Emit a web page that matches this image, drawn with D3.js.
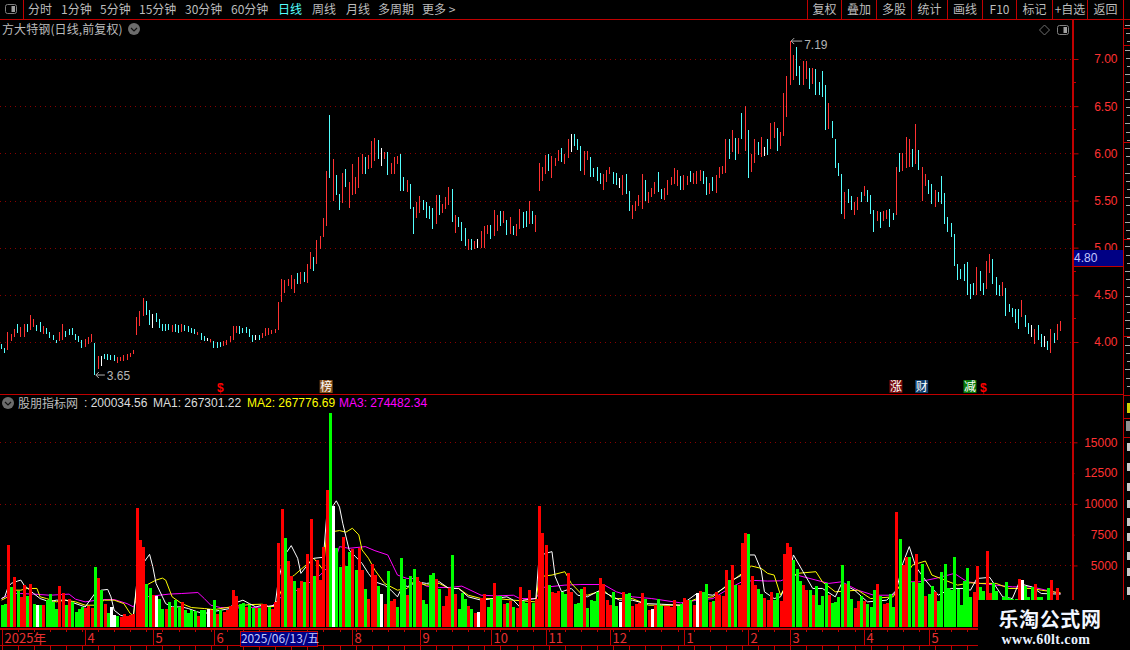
<!DOCTYPE html>
<html lang="zh">
<head>
<meta charset="UTF-8">
<title>方大特钢 日线</title>
<script src="https://cdn.jsdelivr.net/npm/d3@7"></script>
<style>
html,body{margin:0;padding:0;background:#000;overflow:hidden}
svg{display:block}
text{font-family:"Noto Sans CJK SC","Liberation Sans",sans-serif}
.num{font-family:"Liberation Sans",sans-serif}
</style>
</head>
<body>
<script>
// K线 每根的最高/最低
const priceHigh = [
3.98,3.94,4.11,4.08,4.14,4.19,4.16,4.19,4.19,4.29,
4.24,4.18,4.21,4.17,4.15,4.11,4.07,4.02,4.11,4.19,
4.12,4.14,4.15,4.08,4.06,4.02,4.03,4.05,4.08,3.99,
3.85,3.85,3.87,3.87,3.86,3.86,3.84,3.84,3.86,3.87,
3.88,3.91,4.27,4.33,4.47,4.43,4.34,4.30,4.31,4.24,
4.19,4.19,4.19,4.18,4.19,4.18,4.19,4.18,4.17,4.15,
4.14,4.11,4.10,4.06,4.04,4.03,4.01,4.00,4.00,4.01,
4.02,4.06,4.17,4.17,4.17,4.15,4.16,4.14,4.07,4.07,
4.07,4.10,4.15,4.15,4.13,4.14,4.42,4.67,4.66,4.67,
4.71,4.67,4.73,4.74,4.74,4.83,4.95,4.90,5.08,5.12,
5.31,5.81,6.41,5.94,5.77,5.57,5.79,5.83,5.70,5.89,
5.75,5.96,5.99,5.96,5.98,6.13,6.16,6.14,6.06,6.01,
6.01,5.90,5.96,5.97,5.99,5.75,5.72,5.67,5.43,5.48,
5.55,5.51,5.48,5.44,5.42,5.56,5.56,5.46,5.54,5.64,
5.62,5.35,5.32,5.27,5.21,5.09,5.09,5.07,5.09,5.18,
5.23,5.24,5.24,5.40,5.35,5.39,5.39,5.29,5.32,5.23,
5.25,5.41,5.38,5.39,5.50,5.39,5.35,5.90,5.85,5.98,
5.99,5.97,5.95,6.04,6.06,5.99,6.15,6.21,6.20,6.15,
6.08,6.02,6.02,5.96,5.84,5.85,5.79,5.78,5.82,5.85,
5.80,5.79,5.74,5.77,5.78,5.60,5.45,5.49,5.56,5.78,
5.72,5.59,5.63,5.70,5.80,5.62,5.63,5.72,5.75,5.84,
5.82,5.76,5.77,5.76,5.81,5.79,5.81,5.82,5.81,5.75,
5.69,5.75,5.77,5.85,5.87,6.15,6.15,6.25,6.16,6.16,
6.43,6.50,6.25,5.99,6.15,6.12,6.17,6.07,6.15,6.32,
6.33,6.27,6.23,6.64,6.82,7.19,7.04,7.13,6.93,6.98,
6.98,6.90,6.90,6.89,6.76,6.87,6.72,6.53,6.34,6.15,
5.90,5.78,5.59,5.62,5.55,5.48,5.54,5.59,5.65,5.61,
5.56,5.40,5.39,5.38,5.39,5.40,5.41,5.37,5.85,6.00,
6.00,6.17,6.15,6.05,6.31,6.04,5.86,5.78,5.72,5.67,
5.61,5.59,5.76,5.58,5.33,5.26,5.15,4.83,4.77,4.83,
4.85,4.61,4.63,4.79,4.75,4.63,4.86,4.93,4.88,4.69,
4.60,4.64,4.57,4.40,4.36,4.35,4.35,4.45,4.29,4.20,
4.18,4.14,4.18,4.08,4.06,4.01,4.14,4.10,4.19,4.22];

const priceLow = [
3.93,3.88,3.91,4.01,4.05,4.10,4.05,4.05,4.11,4.13,
4.16,4.12,4.11,4.08,4.09,4.04,4.02,3.99,4.01,4.02,
4.05,4.07,4.07,4.02,4.00,3.94,3.95,3.98,4.00,3.65,
3.71,3.75,3.82,3.81,3.81,3.80,3.78,3.80,3.80,3.81,
3.84,3.87,4.07,4.17,4.28,4.29,4.18,4.15,4.21,4.15,
4.12,4.12,4.13,4.11,4.11,4.10,4.11,4.12,4.11,4.10,
4.08,4.07,4.02,4.01,4.01,4.00,3.94,3.94,3.95,3.96,
3.97,4.00,4.02,4.10,4.08,4.10,4.10,4.05,4.00,4.02,
4.02,4.04,4.06,4.07,4.08,4.10,4.13,4.42,4.52,4.59,
4.56,4.52,4.62,4.62,4.64,4.63,4.77,4.75,4.83,4.99,
5.11,5.23,5.74,5.50,5.56,5.40,5.47,5.64,5.42,5.56,
5.57,5.63,5.78,5.78,5.83,5.84,5.92,5.94,5.87,5.94,
5.77,5.78,5.78,5.89,5.60,5.60,5.59,5.41,5.15,5.31,
5.37,5.40,5.31,5.30,5.20,5.25,5.35,5.37,5.41,5.45,
5.27,5.16,5.22,5.07,5.02,4.98,4.97,4.99,5.00,5.00,
5.00,5.15,5.09,5.12,5.18,5.23,5.26,5.13,5.15,5.13,
5.12,5.20,5.21,5.22,5.25,5.25,5.17,5.60,5.71,5.78,
5.81,5.74,5.87,5.92,5.91,5.89,5.95,6.01,6.08,6.04,
5.81,5.77,5.93,5.75,5.75,5.71,5.67,5.61,5.70,5.78,
5.68,5.66,5.63,5.56,5.57,5.39,5.30,5.39,5.44,5.41,
5.49,5.47,5.54,5.57,5.59,5.52,5.51,5.56,5.66,5.68,
5.65,5.61,5.61,5.66,5.70,5.67,5.67,5.71,5.68,5.56,
5.57,5.60,5.58,5.74,5.78,5.79,5.94,6.01,5.93,5.99,
6.15,6.03,5.74,5.80,5.90,5.98,5.96,5.97,5.98,6.05,
6.16,6.02,6.08,6.18,6.38,6.72,6.78,6.82,6.72,6.72,
6.79,6.68,6.74,6.62,6.62,6.60,6.25,6.26,6.16,5.84,
5.76,5.36,5.30,5.47,5.40,5.35,5.40,5.48,5.55,5.48,
5.36,5.17,5.28,5.21,5.28,5.30,5.22,5.29,5.35,5.80,
5.81,5.84,5.86,5.85,5.89,5.82,5.49,5.65,5.57,5.46,
5.43,5.48,5.46,5.25,5.17,5.11,4.81,4.66,4.67,4.65,
4.50,4.46,4.50,4.50,4.54,4.50,4.56,4.73,4.61,4.50,
4.49,4.49,4.28,4.32,4.26,4.20,4.14,4.26,4.16,4.09,
4.05,3.98,4.02,3.95,3.95,3.92,3.88,3.99,4.02,4.12];

// r 涨 c 跌 w 平
const priceKind = [
"ccrrrcrrcr","rccrccccrr","ccccccrrrc","rwccccrrrr","rrrrrccwcc",
"cccrccrccc","crccwrcccr","rrrrcccccw","crrrrrrrrr","rrcrcrrcrr",
"rrcrccrcrr","rrrcrrrcwr","crrrccrccr","rccccrcrrr","crcccrcrwr",
"rrcrrcrcrc","rrccrcrrrr","crrrcrrwcc","crrccccrrr","ccwrccrrrr",
"crrrccrrrr","rcrrcrrrcc","rcrrrrcrcr","crcrrcrwcr","rcrrrrrccr",
"rcrccccrcc","ccrccrrcrc","ccrcrrccrc","rrrcrcrrcc","rccccccccc",
"cccrccrrcc","crcccccrcc","wrccwcrcrr"].join("");

// 成交量
const volume = [
1770,1850,6660,3260,4050,2940,2450,3400,2500,3480,
1850,1770,1770,1770,2180,2670,2040,1440,3320,2750,
1770,2260,2040,1220,1440,1630,1550,1740,1550,4870,
3970,2990,1850,1120,1630,950,870,820,1090,900,
1010,1030,9680,7070,6500,3480,3130,2580,2500,2280,
1440,1440,2070,1630,2180,1600,2010,1360,1140,1360,
1310,870,1360,1390,1500,1360,2180,1030,1410,1220,
1360,1690,2990,2500,1850,1930,1630,1770,1580,1580,
1550,1850,1900,1630,1440,2010,6850,9600,7240,5360,
4130,3730,3130,3730,3670,5930,8790,4130,5440,3810,
6500,11100,17400,9800,6420,4900,7340,4980,6120,6310,
4650,6390,4650,3070,2280,5110,4190,3320,2670,1850,
4540,2120,2280,1630,5600,3890,2580,4130,4710,4050,
3640,2180,1850,4220,4380,3890,3070,1690,2500,3160,
5850,2670,1440,2750,2280,1690,1440,1120,1200,2340,
2670,1630,2260,3560,2500,2480,1880,1930,2090,1600,
1550,3240,2090,1930,2990,1930,2260,9850,7640,6660,
3400,2830,2750,2910,2830,2670,4380,2830,1850,1930,
3070,3240,1520,2180,2090,2830,3970,3480,2180,1770,
2830,1690,2010,2830,2670,2750,1690,1850,1930,2750,
2260,1360,1440,1770,2280,1690,1710,1690,1630,2180,
1710,1850,2390,2180,2180,1770,2750,2910,2830,3480,
2040,2090,2830,2580,2500,4620,3810,5030,3400,3400,
6850,7640,7560,4130,3400,3070,2670,2340,2180,2830,
2180,2750,2090,5930,6830,6500,5440,4710,3730,3400,
2990,2990,2580,3320,1770,2500,3560,2580,1930,2010,
2420,5030,3480,3730,2260,1520,2090,2500,2090,1850,
1600,2990,3480,2500,1850,1930,2670,1600,9360,7150,
5030,5680,5680,3640,5930,3560,5110,2500,2670,3320,
2830,2090,4460,5110,3160,2990,5680,3070,1770,3730,
4790,2420,2830,4950,3240,2910,6170,2750,3560,2910,
2180,2450,3620,2370,2310,2310,3860,3810,3320,2450,
3210,3480,2450,2450,1500,3130,3810,1500,3130,1500];

const volumeKind = [
"ggrgrgrrgr","gwgrggggrr","grggggrrrg","rgrgwwgrrr","rrrrrggrwg",
"grgrggrggg","grggwrgrgr","rrrrggrggr","grrgrrrrgr","rgrrgrrgrr",
"rrgwggrggr","grrgrrrgwr","grrgggrggr","rggggrgrrr","grgggrgrwr",
"rggrggrgrg","rrggrgrrrr","grrrggrrgg","grggggrrrr","ggwrggrrrr",
"grwrggrrrr","ggrrgrwrgg","rgrrrrgrgr","rrgrrggrrr","ggrrrrgggr",
"rgrggggrgg","ggrggrrgrg","ggrgrrggrg","rrggrggrgg","rggggggggg",
"ggrrggrrgg","ggggggrwgg","grggrgrrrr"].join("");

// 均量线 [序号, 值]
const ma1Points = [[0,2310],[1,2450],[2,3210],[3,3540],[5,3730],[6,3810],[7,3400],[10,2720],[12,2310],[15,2040],[17,2180],[20,2180],[26,1630],[29,2720],[31,2990],[33,3050],[34,2450],[35,1360],[37,950],[39,820],[41,950],[42,3540],[44,5170],[46,5900],[47,4900],[48,3540],[50,2450],[51,1900],[53,1630],[56,1630],[58,1500],[61,1220],[63,1090],[65,1220],[68,1360],[71,1500],[72,1900],[75,2180],[77,1900],[79,1630],[81,1770],[83,1690],[85,1770],[86,3810],[88,5850],[90,6610],[92,5580],[93,4350],[95,5030],[97,5580],[100,5660],[101,8980],[103,9850],[104,10250],[105,9740],[106,8430],[108,6260],[110,5710],[112,5170],[114,4350],[116,3670],[119,3400],[121,2990],[123,2450],[125,3540],[126,3260],[129,3670],[132,3540],[136,3670],[139,3130],[142,3130],[145,2450],[149,2180],[153,2310],[157,2450],[159,2180],[161,1630],[162,2180],[166,2310],[167,5710],[169,5980],[171,6120],[172,4080],[174,2860],[177,3130],[179,2580],[182,2450],[186,2990],[189,2580],[192,2180],[196,2180],[200,1900],[205,1850],[211,1770],[216,2720],[221,2580],[225,3260],[227,3810],[230,4220],[232,5850],[234,5850],[236,4620],[237,2860],[240,2310],[242,2450],[244,3540],[246,5850],[249,4490],[252,3130],[255,3130],[259,2450],[261,3540],[265,2990],[269,2040],[275,2180],[278,2990],[280,5170],[282,6530],[284,4900],[287,3810],[291,2580],[295,3130],[299,3130],[301,2990],[303,3940],[307,4030],[311,2450],[314,2310],[316,3540],[320,3260],[323,2720],[329,2670]];

const ma2Points = [[0,2180],[2,2450],[4,2990],[6,2990],[8,3130],[11,3130],[12,2450],[14,2310],[17,2040],[20,2180],[23,2040],[26,1770],[29,1770],[32,2180],[35,2180],[38,1900],[40,1090],[41,950],[42,3260],[45,3400],[48,3810],[50,3970],[51,3810],[53,2450],[56,1900],[59,1580],[63,1500],[66,1410],[70,1580],[73,1690],[77,1820],[81,1850],[83,1630],[85,1690],[88,3670],[91,4220],[94,4900],[97,5580],[100,4620],[101,7620],[103,7750],[105,7830],[107,7700],[109,8020],[111,7480],[112,6260],[114,5580],[116,4620],[119,3540],[123,2990],[126,3130],[128,3670],[132,3400],[136,3540],[139,3130],[142,3130],[145,2580],[149,2310],[154,2310],[159,2180],[166,2040],[167,4080],[171,4220],[175,4490],[177,3540],[180,2720],[182,2580],[187,2990],[190,2310],[196,2310],[201,1770],[211,1770],[216,2310],[221,2450],[226,3540],[230,4350],[233,4950],[236,4760],[238,4350],[240,4220],[242,2580],[244,3540],[247,4350],[253,4490],[255,3670],[259,2860],[266,2990],[270,2310],[277,2450],[280,3810],[283,5030],[287,5360],[289,4220],[293,3810],[297,3400],[301,3590],[304,3540],[309,3540],[313,3130],[320,3130],[323,2990],[329,2770]];

const ma3Points = [[0,2310],[3,2720],[6,2720],[10,2670],[15,2580],[21,2670],[23,2260],[26,2040],[31,2230],[35,2230],[39,1900],[41,1630],[42,2310],[45,2450],[49,2580],[52,2670],[56,2720],[61,2800],[63,2310],[65,1770],[68,1580],[74,1550],[78,1580],[84,1690],[88,2720],[90,2770],[93,3130],[96,3670],[99,4220],[101,4760],[103,4900],[105,6530],[108,6390],[113,6530],[116,6200],[120,5850],[123,4220],[126,3940],[128,3940],[132,3320],[136,3210],[139,3210],[143,3320],[149,2580],[154,2530],[159,2580],[161,2310],[166,2310],[168,3210],[175,3400],[180,3450],[187,3450],[191,2860],[196,2450],[202,2310],[211,1960],[216,2180],[221,2310],[226,3130],[230,3670],[234,3780],[238,3730],[242,3750],[247,4220],[253,3810],[257,3540],[261,3670],[266,2990],[271,2580],[277,2580],[280,3670],[285,3670],[290,3940],[296,4350],[300,3670],[304,3540],[314,3260],[320,3260],[329,2720]];

const priceTicks = [4,4.5,5,5.5,6,6.5,7];
const priceMinor = [4.25,4.75,5.25,5.75,6.25,6.75];
const volTicks = [5000,7500,10000,12500,15000];
const volGrid = [5000,10000,15000];

const monthIdx = [0,26,47,66,109,130,152,169,189,212,232,245,268,288];
const monthLabel = ["2025年","4","5","6","8","9","10","11","12","1","2","3","4","5"];

const toolbarLeft = ["分时","1分钟","5分钟","15分钟","30分钟","60分钟","日线","周线","月线","多周期","更多 >"];
const toolbarLeftX = [28,61,100,139,185,231,278,312,346,378,422];
const toolbarRight = ["复权","叠加","多股","统计","画线","F10","标记","+自选","返回"];
const toolbarRightX = [807,841,876,911,947,982,1016,1052,1087,1123];

const markers = [
  {idx:101, t:"榜", bg:"#86501a"},
  {idx:278, t:"涨", bg:"#7a0c0c"},
  {idx:286, t:"财", bg:"#103f6e"},
  {idx:301, t:"减", bg:"#0a7a0a"}
];
const dollarIdx = [68,305];

// 右侧面板被窗口切掉,只露出碎片
const sideLines = [28,45,142,239,336,395,418,437];
const sideBlocks = [443,463,483,500,518,533,552,568,587];

const W = 1130, H = 650;
const RED = "#c00000", AXISRED = "#ff3232", GREY = "#bcbcbc";
const axisX = 1072.5;

const svg = d3.select("body").append("svg").attr("width",W).attr("height",H);
svg.append("rect").attr("width",W).attr("height",H).attr("fill","#000");

const x = d3.scaleLinear().domain([0,329]).range([1.5,1060.6]);
const yP = d3.scaleLinear().domain([4,7]).range([342,59]);
const yV = d3.scaleLinear().domain([0,15000]).range([627,442.3]);

// 网格
const grid = svg.append("g").attr("stroke","#8a0000").attr("stroke-dasharray","1 4");
priceTicks.forEach(t => grid.append("line").attr("x1",0).attr("x2",axisX).attr("y1",Math.round(yP(t))+.5).attr("y2",Math.round(yP(t))+.5));
volGrid.forEach(t => grid.append("line").attr("x1",0).attr("x2",axisX).attr("y1",Math.round(yV(t))+.5).attr("y2",Math.round(yV(t))+.5));

// K线
const kColor = {r:"#ff3232",c:"#54ffff",w:"#ffffff"};
svg.append("g").attr("shape-rendering","crispEdges").selectAll("rect")
  .data(priceHigh).join("rect")
  .attr("x",(d,i)=>Math.floor(x(i)))
  .attr("width",1)
  .attr("y",d=>yP(d))
  .attr("height",(d,i)=>Math.max(1,yP(priceLow[i])-yP(d)))
  .attr("fill",(d,i)=>kColor[priceKind[i]]);

// 均量线在柱子后面
const line = d3.line().x(d=>x(d[0])).y(d=>yV(d[1]));
[[ma3Points,"#ff00ff"],[ma2Points,"#ffff00"],[ma1Points,"#ffffff"]].forEach(s=>{
  svg.append("path").attr("d",line(s[0])).attr("fill","none").attr("stroke",s[1]).attr("stroke-width",1);
});

// 量柱
const vColor = {r:"#ff0000",g:"#00ff00",w:"#ffffff"};
svg.append("g").attr("shape-rendering","crispEdges").selectAll("rect")
  .data(volume).join("rect")
  .attr("x",(d,i)=>Math.round(x(i)-1))
  .attr("width",3)
  .attr("y",d=>yV(d))
  .attr("height",d=>yV(0)-yV(d))
  .attr("fill",(d,i)=>vColor[volumeKind[i]]);

// 框线
const frame = svg.append("g").attr("stroke",RED).attr("shape-rendering","crispEdges");
function hl(y,x1,x2,w){frame.append("line").attr("x1",x1).attr("x2",x2).attr("y1",y).attr("y2",y).attr("stroke-width",w||1);}
function vl(x0,y1,y2,w){frame.append("line").attr("x1",x0).attr("x2",x0).attr("y1",y1).attr("y2",y2).attr("stroke-width",w||1);}
hl(19.5,0,W,1);
vl(23.5,0,19);
toolbarRightX.forEach(v=>vl(v+.5,0,19));
hl(394.5,0,1123,1);
vl(axisX+.5,19,H,2);
vl(1123.5,19,H,1);
hl(628.5,0,W,2);
hl(645.5,0,W,1);
sideLines.forEach(v=>hl(v+.5,1123,W,1));

// 右侧面板碎片
const side = svg.append("g").attr("shape-rendering","crispEdges");
d3.range(25,390,8.2).forEach((v,i)=>{
  side.append("rect").attr("x",1125+(i%3)).attr("y",v).attr("width",5-(i%3)).attr("height",1).attr("fill","#a8a8a8");
});
side.append("rect").attr("x",1127).attr("y",403).attr("width",3).attr("height",10).attr("fill","#d0d000");
side.append("rect").attr("x",1126).attr("y",421).attr("width",4).attr("height",10).attr("fill","#909090");
sideBlocks.forEach(v=>side.append("rect").attr("x",1127).attr("y",v).attr("width",3).attr("height",8).attr("fill","#c8c8c8"));

// 右轴
const axP = d3.axisRight(yP).tickValues(priceTicks).tickSize(6).tickFormat(d3.format(".2f"));
const gP = svg.append("g").attr("transform",`translate(${axisX},0)`).call(axP);
const axV = d3.axisRight(yV).tickValues(volTicks).tickSize(5).tickFormat(d3.format("d"));
const gV = svg.append("g").attr("transform",`translate(${axisX},0)`).call(axV);
[gP,gV].forEach(g=>{
  g.select(".domain").remove();
  g.selectAll("line").attr("stroke",RED);
  g.selectAll("text").attr("class","num").attr("fill",AXISRED).attr("font-size",12).attr("text-anchor","end").attr("x",45);
});
gV.selectAll("line").attr("x2",d=>d%5000===0?5:2);
const minor = svg.append("g").attr("stroke",RED).attr("shape-rendering","crispEdges");
priceMinor.forEach(t=>minor.append("line").attr("x1",axisX).attr("x2",axisX+3).attr("y1",yP(t)).attr("y2",yP(t)));

// 现价框
svg.append("rect").attr("x",1074).attr("y",250).attr("width",49).attr("height",16).attr("fill","#000084").attr("shape-rendering","crispEdges");
svg.append("line").attr("x1",1074).attr("x2",1123).attr("y1",266.5).attr("y2",266.5).attr("stroke",RED);
svg.append("text").attr("class","num").attr("x",1074).attr("y",262).attr("font-size",12).attr("fill","#c4c8ff").text("4.80");

// 工具栏
const tb = svg.append("g").attr("font-size",12).attr("fill",GREY);
toolbarLeft.forEach((t,i)=>tb.append("text").attr("x",toolbarLeftX[i]).attr("y",14).attr("fill",t==="日线"?"#54ffff":GREY).text(t));
toolbarRight.forEach((t,i)=>tb.append("text").attr("x",(toolbarRightX[i]+toolbarRightX[i+1])/2+.5).attr("y",14).attr("text-anchor","middle").text(t));

function toggleIcon(px,py){
  svg.append("rect").attr("x",px).attr("y",py).attr("width",11).attr("height",9).attr("rx",2).attr("fill","none").attr("stroke","#808080");
  svg.append("rect").attr("x",px+6).attr("y",py+1.5).attr("width",3.5).attr("height",6).attr("fill","#a0a0a0");
}
function downIcon(px,py){
  svg.append("circle").attr("cx",px).attr("cy",py).attr("r",6).attr("fill","#6c6c6c");
  svg.append("path").attr("d",`M${px-3},${py-1}L${px},${py+2}L${px+3},${py-1}`).attr("fill","none").attr("stroke","#111").attr("stroke-width",1.2);
}
toggleIcon(5.5,4.5);
toggleIcon(1057.5,25.5);
svg.append("path").attr("d","M1044.5,25L1049.5,30L1044.5,35L1039.5,30Z").attr("fill","none").attr("stroke","#707070");

svg.append("text").attr("x",2).attr("y",34).attr("font-size",12).attr("letter-spacing",.1).attr("fill",GREY).text("方大特钢(日线,前复权)");
downIcon(134,29);

// 指标标题
downIcon(8,403);
svg.append("text").attr("x",18).attr("y",408).attr("font-size",12).attr("fill",GREY).text("股朋指标网");
const legend = svg.append("g").attr("font-size",12);
legend.append("text").attr("class","num").attr("x",84).attr("y",407).attr("fill","#dcdcdc").text(": 200034.56");
legend.append("text").attr("class","num").attr("x",153).attr("y",407).attr("fill","#dcdcdc").text("MA1: 267301.22");
legend.append("text").attr("class","num").attr("x",247).attr("y",407).attr("fill","#ffff00").text("MA2: 267776.69");
legend.append("text").attr("class","num").attr("x",339).attr("y",407).attr("fill","#ff00ff").text("MA3: 274482.34");

// 高低点标注
function note(idx,p,label,dx,dy){
  const px = x(idx), py = yP(p);
  svg.append("path").attr("d",`M${px+4},${py-3}L${px+1},${py}L${px+4},${py+3}M${px+1},${py}H${px+dx-2}`)
    .attr("fill","none").attr("stroke","#b0b0b0");
  svg.append("text").attr("class","num").attr("x",px+dx).attr("y",py+dy).attr("font-size",12).attr("fill","#b4b4b4").text(label);
}
note(245,7.19,"7.19",14,8);
note(29,3.65,"3.65",12,5);

// 事件标记
markers.forEach(m=>{
  const px = x(m.idx);
  svg.append("rect").attr("x",px-7).attr("y",380).attr("width",13).attr("height",13).attr("fill",m.bg);
  svg.append("text").attr("x",px-.5).attr("y",391).attr("text-anchor","middle").attr("font-size",12).attr("fill","#fff").text(m.t);
});
dollarIdx.forEach(i=>{
  svg.append("text").attr("class","num").attr("x",x(i)).attr("y",392).attr("text-anchor","middle").attr("font-size",12).attr("font-weight","bold").attr("fill","#ff0000").text("$");
});

// 时间轴
const tm = svg.append("g");
monthIdx.forEach((i,k)=>{
  const px = Math.round(x(i))+.5;
  tm.append("line").attr("x1",px).attr("x2",px).attr("y1",629).attr("y2",645).attr("stroke",RED).attr("shape-rendering","crispEdges");
  tm.append("text").attr("x",px+2).attr("y",643).attr("font-size",13).attr("fill","#e83030").text(monthLabel[k]);
});
d3.range(0,329,5).forEach(i=>{
  const px = Math.round(x(i))+.5;
  tm.append("line").attr("x1",px).attr("x2",px).attr("y1",629).attr("y2",632).attr("stroke",RED).attr("shape-rendering","crispEdges");
  tm.append("line").attr("x1",px).attr("x2",px).attr("y1",646).attr("y2",650).attr("stroke",RED).attr("shape-rendering","crispEdges");
});
tm.append("rect").attr("x",240).attr("y",631).attr("width",77).attr("height",15).attr("fill","#000084").attr("stroke",RED).attr("shape-rendering","crispEdges");
tm.append("text").attr("x",241).attr("y",643).attr("font-size",12).attr("letter-spacing",-.1).attr("fill","#c4c8ff").text("2025/06/13/五");

// 水印
svg.append("rect").attr("x",978).attr("y",600).attr("width",152).attr("height",50).attr("fill","#000");
svg.append("text").attr("x",1050).attr("y",627).attr("text-anchor","middle").attr("font-size",20).attr("font-weight","bold").attr("letter-spacing",.6)
  .attr("style","font-family:'Noto Sans CJK SC'").attr("fill","#f2f6ff").text("乐淘公式网");
svg.append("text").attr("x",1046).attr("y",644).attr("text-anchor","middle").attr("font-size",14).attr("font-weight","bold")
  .attr("style","font-family:'Liberation Serif'").attr("fill","#eaf2ff").attr("letter-spacing",.4).text("www.60lt.com");
</script>
</body>
</html>
